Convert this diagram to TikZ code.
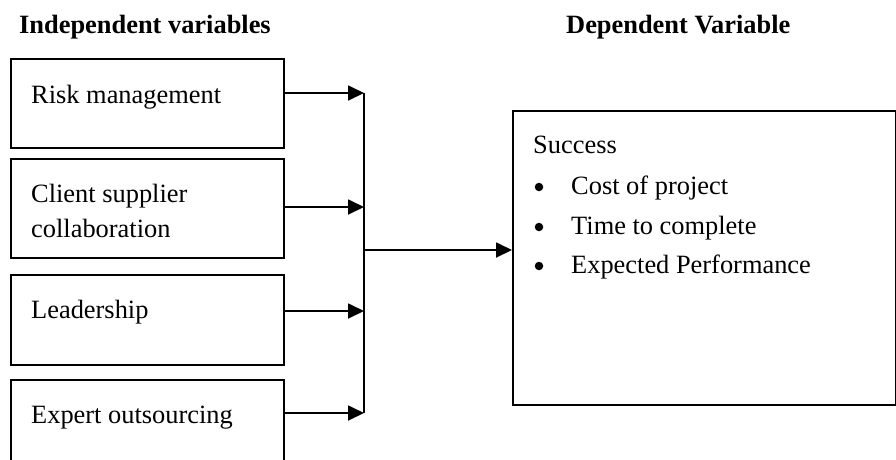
\documentclass[tikz,border=0pt]{standalone}
\usepackage{fontspec}
\setmainfont{Liberation Serif}
\usetikzlibrary{arrows.meta}
\tikzset{
  box/.style={draw, line width=1.8pt, rectangle, inner sep=0pt, anchor=north west},
  txt/.style={inner sep=0pt, anchor=base west, font=\fontsize{26.4}{35}\selectfont},
  head/.style={inner sep=0pt, anchor=base west, font=\fontsize{26.4}{35}\selectfont\bfseries},
  bul/.style={circle, fill, inner sep=0pt, minimum size=8.5pt},
  conn/.style={line width=1.8pt},
  arr/.style={line width=1.8pt, -{Triangle[length=16pt,width=15pt]}}
}
\begin{document}
\begin{tikzpicture}[x=1pt,y=-1pt]
\useasboundingbox (0,0) rectangle (896,459);
\clip (0,0) rectangle (896,459);
% headings
\node[head] (h1) at (19,33) {Independent variables};
\node[head] (h2) at (566,33) {Dependent Variable};
% left boxes
\node[box, minimum width=273pt, minimum height=89pt] (b1) at (10,58) {};
\node[box, minimum width=273pt, minimum height=99pt] (b2) at (10,158) {};
\node[box, minimum width=273pt, minimum height=90pt] (b3) at (10,274) {};
\node[box, minimum width=273pt, minimum height=92pt] (b4) at (10,379) {};
\node[txt] (t1) at (31,103) {Risk management};
\node[txt] (t2a) at (31,202) {Client supplier};
\node[txt] (t2b) at (31,237) {collaboration};
\node[txt] (t3) at (31,318) {Leadership};
\node[txt] (t4) at (31,423) {Expert outsourcing};
% right box
\node[box, minimum width=383pt, minimum height=294pt] (r) at (512,110) {};
\node[txt] (s0) at (533,153) {Success};
\node[bul] (d1) at (539,187) {};
\node[bul] (d2) at (539,227) {};
\node[bul] (d3) at (539,266) {};
\node[txt] (s1) at (571,194) {Cost of project};
\node[txt] (s2) at (571,234) {Time to complete};
\node[txt] (s3) at (571,273) {Expected Performance};
% junction points
\coordinate (j1) at (364,93);
\coordinate (j2) at (364,207);
\coordinate (j3) at (364,311);
\coordinate (j4) at (364,413);
\coordinate (jm) at (364,250);
% connectors
\draw[arr] (b1.east |- j1) -- (j1);
\draw[arr] (b2.east |- j2) -- (j2);
\draw[arr] (b3.east |- j3) -- (j3);
\draw[arr] (b4.east |- j4) -- (j4);
\draw[conn] (j1) -- (j4);
\draw[arr] (jm) -- (r.west |- jm);
\end{tikzpicture}
\end{document}
